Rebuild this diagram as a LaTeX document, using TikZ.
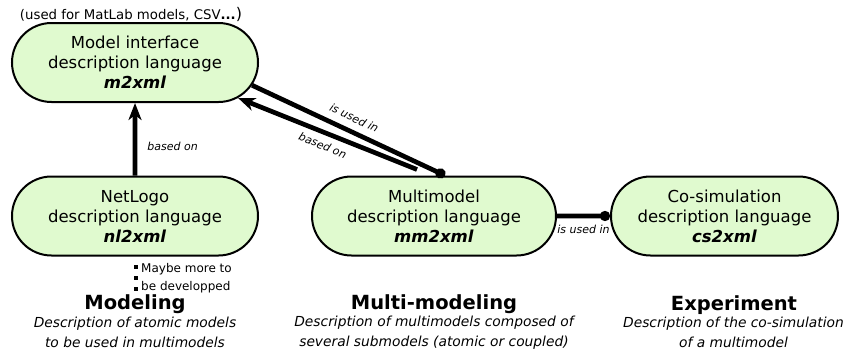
\documentclass[tikz,border=0pt]{standalone}
\usepackage{fontspec}
\setmainfont{DejaVu Sans}
\usetikzlibrary{arrows.meta,shapes.misc,calc}
\definecolor{langgreen}{RGB}{224,250,207}
\tikzset{lang/.style={rounded rectangle, draw, line width=2pt, fill=langgreen,
      minimum height=79pt, inner sep=0pt, align=center,
      font=\fontsize{16.5}{20}\selectfont},
  link/.style={line width=4.7pt},
  usedin/.style={link, -{Circle[length=10pt]}},
  basedon/.style={link, -{Stealth[length=17pt,width=13pt,inset=5pt]}},
  linklabel/.style={font=\fontsize{11}{13}\selectfont\itshape, inner sep=1pt},
  area/.style={font=\fontsize{19.5}{23}\selectfont\bfseries, inner sep=0pt},
  areatext/.style={font=\fontsize{13.8}{19.5}\selectfont\itshape, align=center, inner sep=0pt}}
\newcommand{\langname}[1]{\textbf{\textit{#1}}}

\begin{document}
\begin{tikzpicture}[x=1pt,y=-1pt]
    \useasboundingbox (0,0) rectangle (846,356);
    % languages
    \node[lang, minimum width=246pt] (mxml) at (135,62.5) {Model interface\\description language\\\langname{m2xml}};
    \node[lang, minimum width=246pt] (nlxml) at (135,216) {NetLogo\\description language\\\langname{nl2xml}};
    \node[lang, minimum width=244pt] (mmxml) at (434,216) {Multimodel\\description language\\\langname{mm2xml}};
    \node[lang, minimum width=227pt] (csxml) at (724.5,216) {Co-simulation\\description language\\\langname{cs2xml}};
    \node[font=\fontsize{13.3}{16}\selectfont, inner sep=0pt] (usedfor) at (131,14) {(used for MatLab models, CSV{\bfseries...}{\fontsize{16}{16}\selectfont)}};

    % links
    \draw[basedon] (nlxml) to node[linklabel, pos=0.4, anchor=west, xshift=9pt] {based on} (mxml);
    \draw[usedin] (mxml.-11) to node[linklabel, sloped, above=6pt] {is used in} ($(mmxml.north)+(11,0)$);
    \draw[basedon] ($(mmxml.north)+(-17,-6)$) to node[linklabel, sloped, below=5pt] {based on} (mxml.-19);
    \draw[usedin] (mmxml) to node[linklabel, below=6pt] {is used in} (csxml);

    % more to come
    \foreach \y in {267,278,289}
      \fill (134,\y-2) rectangle ++(4,4);
    \node[font=\fontsize{12}{18}\selectfont, align=left, anchor=west, inner sep=0pt] (more) at (141,278) {Maybe more to\\be developped};

    % areas
    \node[area] (modeling) at (135,304) {Modeling};
    \node[areatext] (modelingtext) at (135,332.5) {Description of atomic models\\to be used in multimodels};
    \node[area] (multi) at (434,304) {Multi-modeling};
    \node[areatext] (multitext) at (434,332.5) {Description of multimodels composed of\\several submodels (atomic or coupled)};
    \node[area] (experiment) at (734,305) {Experiment};
    \node[areatext] (experimenttext) at (733.5,332.5) {Description of the co-simulation\\of a multimodel};
  \end{tikzpicture}
\end{document}
